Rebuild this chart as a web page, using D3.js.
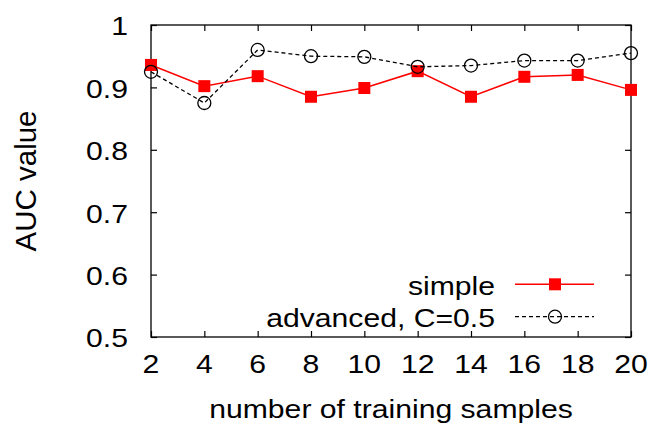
<!DOCTYPE html>
<html>
<head>
<meta charset="utf-8">
<script src="https://cdn.jsdelivr.net/npm/d3@7/dist/d3.min.js"></script>
<style>
  html, body { margin: 0; padding: 0; background: #fff; }
  svg { display: block; }
  text { font-family: "Liberation Sans", Arial, Helvetica, sans-serif; fill: #000; }
</style>
</head>
<body>
<svg id="chart" width="650" height="427"></svg>
<script>
// Training-set sizes and AUC scores per method
const samples = [2, 4, 6, 8, 10, 12, 14, 16, 18, 20];
const simpleAUC = [0.936, 0.902, 0.918, 0.885, 0.899, 0.926, 0.885, 0.917, 0.920, 0.896];
const advancedAUC = [0.925, 0.875, 0.960, 0.950, 0.949, 0.933, 0.935, 0.943, 0.943, 0.955];
const xTicks = [2, 4, 6, 8, 10, 12, 14, 16, 18, 20];
const yTicks = [0.5, 0.6, 0.7, 0.8, 0.9, 1];
const seriesNames = ["simple", "advanced, C=0.5"];

const svg = d3.select("#chart");
const plot = { left: 151, right: 631, top: 25, bottom: 337 };

const x = d3.scaleLinear().domain([2, 20]).range([plot.left, plot.right]);
const y = d3.scaleLinear().domain([0.5, 1]).range([plot.bottom, plot.top]);

// Text is set slightly wide, as in the original terminal output
const fontSize = 26;
const stretch = 1.16;
const tickLen = 6;

function label(g, tx, ty, str, anchor, size) {
  return g.append("text")
    .attr("transform", `translate(${tx},${ty}) scale(${stretch},1)`)
    .attr("text-anchor", anchor)
    .style("font-size", (size || fontSize) + "px")
    .text(str);
}

// Mirrored inward ticks on all four sides
const axes = svg.append("g");
axes.append("g")
  .attr("transform", `translate(0,${plot.bottom})`)
  .call(d3.axisBottom(x).tickValues(xTicks).tickSizeInner(-tickLen).tickSizeOuter(0).tickFormat(""));
axes.append("g")
  .attr("transform", `translate(0,${plot.top})`)
  .call(d3.axisTop(x).tickValues(xTicks).tickSizeInner(-tickLen).tickSizeOuter(0).tickFormat(""));
axes.append("g")
  .attr("transform", `translate(${plot.left},0)`)
  .call(d3.axisLeft(y).tickValues(yTicks).tickSizeInner(-tickLen).tickSizeOuter(0).tickFormat(""));
axes.append("g")
  .attr("transform", `translate(${plot.right},0)`)
  .call(d3.axisRight(y).tickValues(yTicks).tickSizeInner(-tickLen).tickSizeOuter(0).tickFormat(""));
axes.selectAll(".domain").remove();
axes.selectAll(".tick line").attr("stroke", "#000").attr("stroke-width", 1.2);

// Tick labels placed from the same scales
const tickLabels = svg.append("g");
xTicks.forEach(t => label(tickLabels, x(t), 373, d3.format("d")(t), "middle"));
yTicks.forEach(t => label(tickLabels, plot.left - 23, y(t) + 10.3, t === 1 ? "1" : d3.format(".1f")(t), "end"));

// Plot frame
svg.append("rect")
  .attr("x", plot.left).attr("y", plot.top)
  .attr("width", plot.right - plot.left).attr("height", plot.bottom - plot.top)
  .attr("fill", "none").attr("stroke", "#000").attr("stroke-width", 1.3);

// Axis titles
label(svg, (plot.left + plot.right) / 2, 418, "number of training samples", "middle");
svg.append("text")
  .attr("transform", `translate(36,${(plot.top + plot.bottom) / 2}) rotate(-90)`)
  .attr("text-anchor", "middle")
  .style("font-size", "29.5px")
  .text("AUC value");

const line = d3.line().x(d => x(d[0])).y(d => y(d[1]));
const simpleData = samples.map((s, i) => [s, simpleAUC[i]]);
const advancedData = samples.map((s, i) => [s, advancedAUC[i]]);

const sq = 12, r = 6.5;

// simple: solid red line with filled squares
svg.append("path").datum(simpleData)
  .attr("d", line).attr("fill", "none").attr("stroke", "#ff0000").attr("stroke-width", 1.5);
svg.append("g").selectAll("rect").data(simpleData).join("rect")
  .attr("x", d => x(d[0]) - sq / 2).attr("y", d => y(d[1]) - sq / 2)
  .attr("width", sq).attr("height", sq).attr("fill", "#ff0000");

// advanced: dashed black line with open circles
svg.append("path").datum(advancedData)
  .attr("d", line).attr("fill", "none").attr("stroke", "#000")
  .attr("stroke-width", 1.3).attr("stroke-dasharray", "4,3");
svg.append("g").selectAll("circle").data(advancedData).join("circle")
  .attr("cx", d => x(d[0])).attr("cy", d => y(d[1])).attr("r", r)
  .attr("fill", "none").attr("stroke", "#000").attr("stroke-width", 1.3);

// Legend
const legend = svg.append("g");
const lx0 = 515, lx1 = 594, lmx = 555, textRight = 495;
const rows = [284.3, 316.7];
label(legend, textRight, rows[0] + 10.5, seriesNames[0], "end");
legend.append("line").attr("x1", lx0).attr("x2", lx1).attr("y1", rows[0]).attr("y2", rows[0])
  .attr("stroke", "#ff0000").attr("stroke-width", 1.5);
legend.append("rect").attr("x", lmx - sq / 2).attr("y", rows[0] - sq / 2).attr("width", sq).attr("height", sq)
  .attr("fill", "#ff0000");

label(legend, textRight, rows[1] + 10, seriesNames[1], "end");
legend.append("line").attr("x1", lx0).attr("x2", lx1).attr("y1", rows[1]).attr("y2", rows[1])
  .attr("stroke", "#000").attr("stroke-width", 1.3).attr("stroke-dasharray", "4,3");
legend.append("circle").attr("cx", lmx).attr("cy", rows[1]).attr("r", r)
  .attr("fill", "none").attr("stroke", "#000").attr("stroke-width", 1.3);
</script>
</body>
</html>
